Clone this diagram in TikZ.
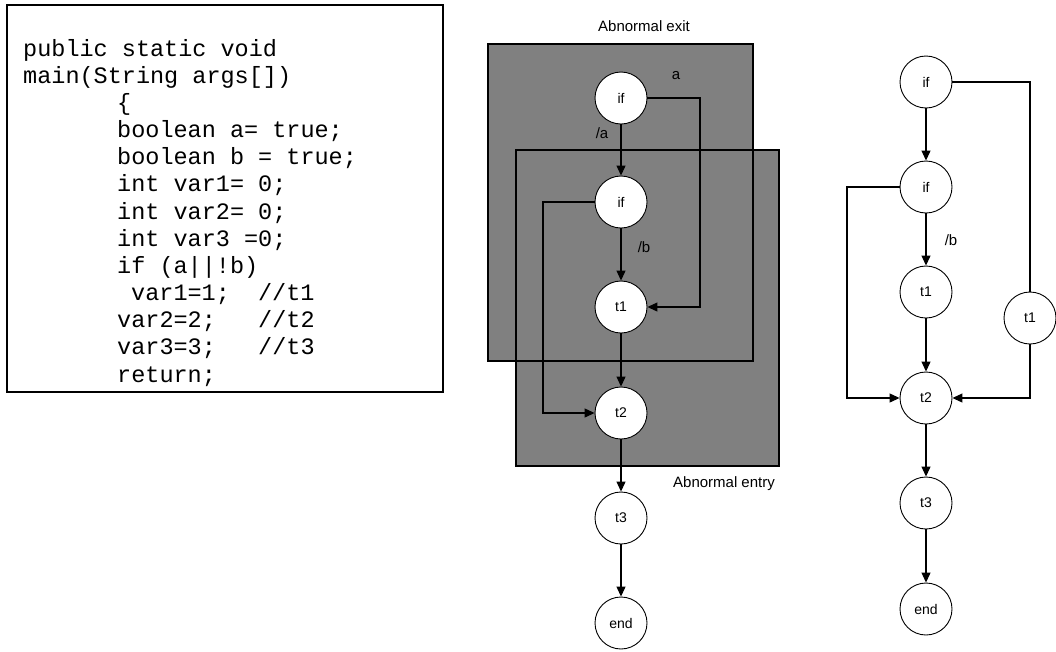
\documentclass[tikz,border=0pt]{standalone}
\usepackage{fontspec}
\setmainfont{Liberation Sans}
\setmonofont{Liberation Mono}
\usetikzlibrary{arrows.meta}
\begin{document}
\begin{tikzpicture}[x=1pt,y=-1pt,
  state/.style={circle,draw,fill=white,minimum size=52pt,inner sep=0pt,line width=0.9pt,font=\fontsize{14}{16}\selectfont},
  arr/.style={-{Triangle[length=10pt,width=9pt]},line width=1.1pt},
  plain/.style={line width=1.1pt},
  lbl/.style={inner sep=0pt,font=\fontsize{15}{17}\selectfont},
  code/.style={anchor=base west,inner sep=0pt,font=\ttfamily\fontsize{23.5}{27}\selectfont},
  region/.style={fill=black!50,draw=none},
  regionline/.style={draw=black,line width=1.1pt}]
\useasboundingbox (0,0) rectangle (1056,651);

% code box
\draw[line width=1.5pt] (7,5) rectangle (443,392);
\node[code] (c1) at (23,56) {public static void};
\node[code] (c2) at (23,83.2) {main(String args[])};
\node[code] (c3) at (117,110.3) {\{};
\node[code] (c4) at (117,137.5) {boolean a= true;};
\node[code] (c5) at (117,164.7) {boolean b = true;};
\node[code] (c6) at (117,191.8) {int var1= 0;};
\node[code] (c7) at (117,219) {int var2= 0;};
\node[code] (c8) at (117,246.2) {int var3 =0;};
\node[code] (c9) at (117,273.3) {if (a||!b)};
\node[code] (c10) at (131,300.5) {var1=1;~~//t1};
\node[code] (c11) at (117,327.7) {var2=2;~~~//t2};
\node[code] (c12) at (117,354.8) {var3=3;~~~//t3};
\node[code] (c13) at (117,382) {return;};

% gray regions
\path[region] (488,44) rectangle (753,361);
\path[region] (516,150) rectangle (779,466);
\path[regionline] (488,44) rectangle (753,361);
\path[regionline] (516,150) rectangle (779,466);
\node[lbl] (lexit) at (644,26) {Abnormal exit};
\node[lbl] (lentry) at (724,484) {Abnormal entry};

% middle graph
\node[state] (m1) at (621,98) {if};
\node[state] (m2) at (621,202) {if};
\node[state] (m3) at (621,307) {t1};
\node[state] (m4) at (621,413) {t2};
\node[state] (m5) at (621,518) {t3};
\node[state] (m6) at (621,623) {end};
\coordinate (ca) at (700,307);
\coordinate (cb) at (543,413);
\draw[arr] (m1) -- (m2);
\draw[arr] (m2) -- (m3);
\draw[arr] (m3) -- (m4);
\draw[arr] (m4) -- (m5);
\draw[arr] (m5) -- (m6);
\draw[arr] (m1.east) -| (ca) -- (m3.east);
\draw[arr] (m2.west) -| (cb) -- (m4.west);
\node[lbl] (la) at (676,76) {a};
\node[lbl] (lna) at (602,133) {/a};
\node[lbl] (lnb) at (644,247) {/b};

% right graph
\node[state] (r1) at (926,82) {if};
\node[state] (r2) at (926,187) {if};
\node[state] (r3) at (926,292) {t1};
\node[state] (r4) at (1030,318) {t1};
\node[state] (r5) at (926,398) {t2};
\node[state] (r6) at (926,503) {t3};
\node[state] (r7) at (926,609) {end};
\coordinate (cc) at (847,398);
\draw[arr] (r1) -- (r2);
\draw[arr] (r2) -- (r3);
\draw[arr] (r3) -- (r5);
\draw[arr] (r5) -- (r6);
\draw[arr] (r6) -- (r7);
\draw[plain] (r1.east) -| (r4.north);
\draw[arr] (r4.south) |- (r5.east);
\draw[arr] (r2.west) -| (cc) -- (r5.west);
\node[lbl] (rnb) at (951,240) {/b};
\end{tikzpicture}
\end{document}
